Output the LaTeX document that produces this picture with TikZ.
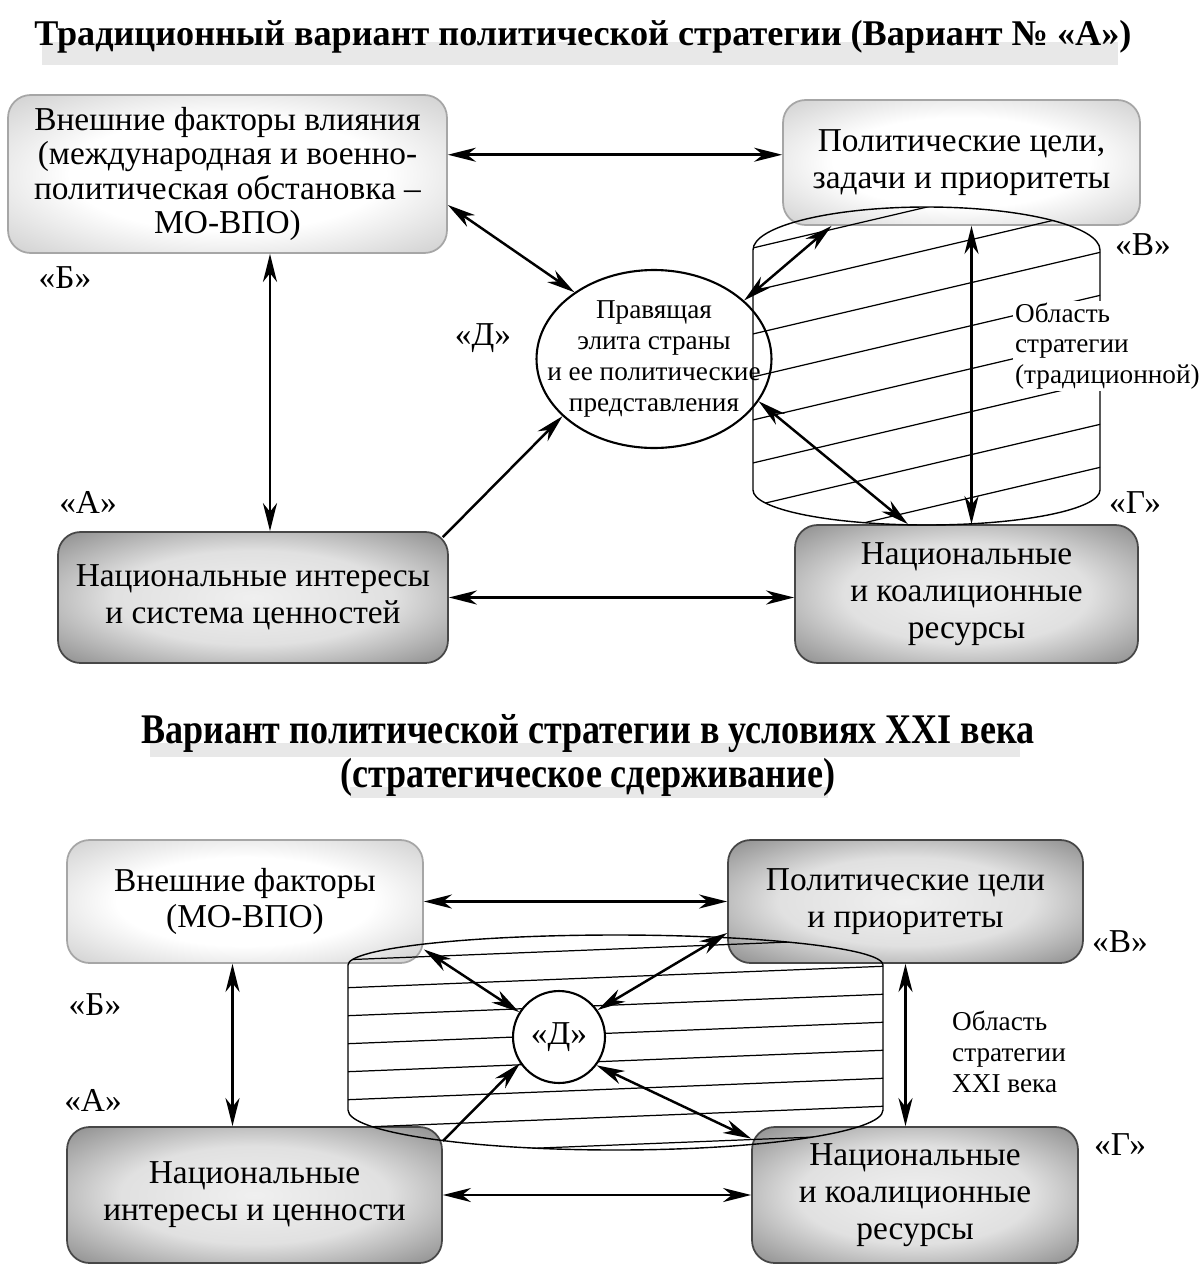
\documentclass[tikz,border=0pt]{standalone}
\usepackage{fontspec}
\setmainfont{Liberation Serif}
\usepackage{graphicx}
\usepackage{tikz}
\usetikzlibrary{positioning}
\usetikzlibrary{calc}
\usetikzlibrary{arrows.meta}
\usetikzlibrary{shapes.geometric}

\pgfdeclareradialshading{lightglow}{\pgfpoint{0bp}{0bp}}{color(0bp)=(white); color(18bp)=(white); color(34bp)=(black!17); color(100bp)=(black!17)}
\pgfdeclareradialshading{darkglow}{\pgfpoint{0bp}{0bp}}{color(0bp)=(black!6); color(18bp)=(black!12); color(34bp)=(black!42); color(100bp)=(black!42)}

\begin{document}
\begin{tikzpicture}[
    x=0.02cm, y=-0.02cm,
    box/.style={rectangle, rounded corners=0.45cm, align=center, inner sep=0pt, line width=1pt, font=\fontsize{19}{21}\selectfont},
    lightbox/.style={box, draw=black!35, shade, shading=lightglow},
    darkbox/.style={box, draw=black!72, shade, shading=darkglow},
    biarrow/.style={{Stealth[length=16pt,width=8pt,inset=5pt]}-{Stealth[length=16pt,width=8pt,inset=5pt]}, line width=1.4pt},
    onearrow/.style={-{Stealth[length=16pt,width=8pt,inset=5pt]}, line width=1.4pt},
    tag/.style={font=\fontsize{19}{21}\selectfont},
    note/.style={align=left, font=\fontsize{15.5}{17.5}\selectfont},
    hatchline/.style={line width=0.7pt},
    outline/.style={line width=0.8pt}
]
\useasboundingbox (0,0) rectangle (1200,1275);

\fill[black!9] (42,42) rectangle (1118,65);
\node[anchor=base, font=\bfseries\fontsize{20.6}{24}\selectfont] (title1) at (583,45) {Традиционный вариант политической стратегии (Вариант № «А»)};

\node[lightbox, minimum width=8.78cm, minimum height=3.16cm, font=\fontsize{19}{19.5}\selectfont] (ext) at (227.5,174) {Внешние факторы влияния\\(международная и военно-\\политическая обстановка –\\МО-ВПО)};
\node[lightbox, minimum width=7.14cm, minimum height=2.5cm] (pol) at (961.5,162.5) {Политические цели,\\задачи и приоритеты};
\node[darkbox, minimum width=7.8cm, minimum height=2.62cm] (nat) at (253,597.5) {Национальные интересы\\и система ценностей};
\node[darkbox, minimum width=6.86cm, minimum height=2.76cm] (res) at (966.5,594) {Национальные\\и коалиционные\\ресурсы};
\node[draw, ellipse, line width=1.2pt, fill=white, minimum width=4.7cm, minimum height=3.56cm, inner sep=0pt] (elite) at (654,359) {};

\begin{scope}
\clip (753,250) -- (753,490) arc[start angle=180, end angle=0, x radius=173.5, y radius=35] -- (1100,250) arc[start angle=0, end angle=-180, x radius=173.5, y radius=43] -- cycle;
\foreach \k in {0,...,8}
    \draw[hatchline] (740,{251+43*\k}) -- (1110,{164+43*\k});
\end{scope}
\draw[outline] (753,250) -- (753,490) arc[start angle=180, end angle=0, x radius=173.5, y radius=35] -- (1100,250) arc[start angle=0, end angle=-180, x radius=173.5, y radius=43] -- cycle;

\node[note, align=center] (elitetext) at (elite.center) {Правящая\\элита страны\\и ее политические\\представления};
\node[note, fill=white, anchor=west, inner sep=1pt] (area) at (1013,346) {Область\\стратегии\\(традиционной)};

\coordinate (e1) at ([xshift=0.85cm]ext.south);
\coordinate (p1) at ([xshift=0.2cm]pol.south);
\draw[biarrow] (ext.5) -- (ext.5 -| pol.west);
\draw[biarrow] (ext.-8) -- (elite.140);
\draw[biarrow] (e1) -- (e1 |- nat.north);
\draw[onearrow] ([shift={(-0.12cm,-0.12cm)}]nat.north east) -- (elite.212);
\draw[biarrow] (nat.east) -- (nat.east -| res.west);
\draw[biarrow] (elite.33) -- (pol.206);
\draw[biarrow] (elite.-22) -- (res.130);
\draw[biarrow] (p1) -- (p1 |- res.north);

\node[tag] (lb1) at (65,278) {«Б»};
\node[tag] (ld1) at (483,338) {«Д»};
\node[tag] (lv1) at (1143,245) {«В»};
\node[tag] (lg1) at (1135,503) {«Г»};
\node[tag] (la1) at (88,502) {«А»};

\fill[black!9] (150,743) rectangle (1020,757);
\fill[black!9] (350,787) rectangle (828,798);
\node[anchor=base, font=\bfseries\fontsize{24}{28}\selectfont] (title2) at (588,743) {\scalebox{0.855}[1]{Вариант политической стратегии в условиях XXI века}};
\node[anchor=base, font=\bfseries\fontsize{24}{28}\selectfont] (title3) at (588,787) {\scalebox{0.855}[1]{(стратегическое сдерживание)}};

\node[lightbox, minimum width=7.12cm, minimum height=2.46cm] (ext2) at (245,901.5) {Внешние факторы\\(МО-ВПО)};
\node[darkbox, minimum width=7.1cm, minimum height=2.46cm] (pol2) at (905.5,901.5) {Политические цели\\и приоритеты};
\node[darkbox, minimum width=7.5cm, minimum height=2.72cm] (nat2) at (254.5,1195) {Национальные\\интересы и ценности};
\node[darkbox, minimum width=6.52cm, minimum height=2.72cm] (res2) at (915,1195) {Национальные\\и коалиционные\\ресурсы};

\begin{scope}
\clip (348,965) -- (348,1110) arc[start angle=180, end angle=0, x radius=267.5, y radius=40] -- (883,965) arc[start angle=0, end angle=-180, x radius=267.5, y radius=30] -- cycle;
\foreach \k in {-1,...,7}
    \draw[hatchline] (340,{960+28*\k}) -- (890,{938+28*\k});
\end{scope}
\draw[outline] (348,965) -- (348,1110) arc[start angle=180, end angle=0, x radius=267.5, y radius=40] -- (883,965) arc[start angle=0, end angle=-180, x radius=267.5, y radius=30] -- cycle;

\node[draw, circle, fill=white, line width=1.2pt, minimum size=1.84cm, inner sep=0pt, tag] (d2) at (559,1037) {«Д»};

\coordinate (e2) at ([xshift=-0.25cm]ext2.south);
\draw[biarrow] (ext2.east) -- (ext2.east -| pol2.west);
\draw[biarrow] (e2) -- (e2 |- nat2.north);
\draw[biarrow] (pol2.south) -- (pol2.south |- res2.north);
\draw[biarrow] (nat2.east) -- (nat2.east -| res2.west);
\draw[biarrow] (ext2.-15) -- (d2.148);
\draw[biarrow] (d2.35) -- (pol2.190);
\draw[onearrow] (nat2.16) -- (d2.214);
\draw[biarrow] (d2.-37) -- (res2.161);

\node[note, anchor=west] (area2) at (946,1052) {Область\\стратегии\\XXI века};
\node[tag] (lb2) at (95,1005) {«Б»};
\node[tag] (la2) at (93,1100) {«А»};
\node[tag] (lv2) at (1120,942) {«В»};
\node[tag] (lg2) at (1120,1145) {«Г»};
\end{tikzpicture}
\end{document}
